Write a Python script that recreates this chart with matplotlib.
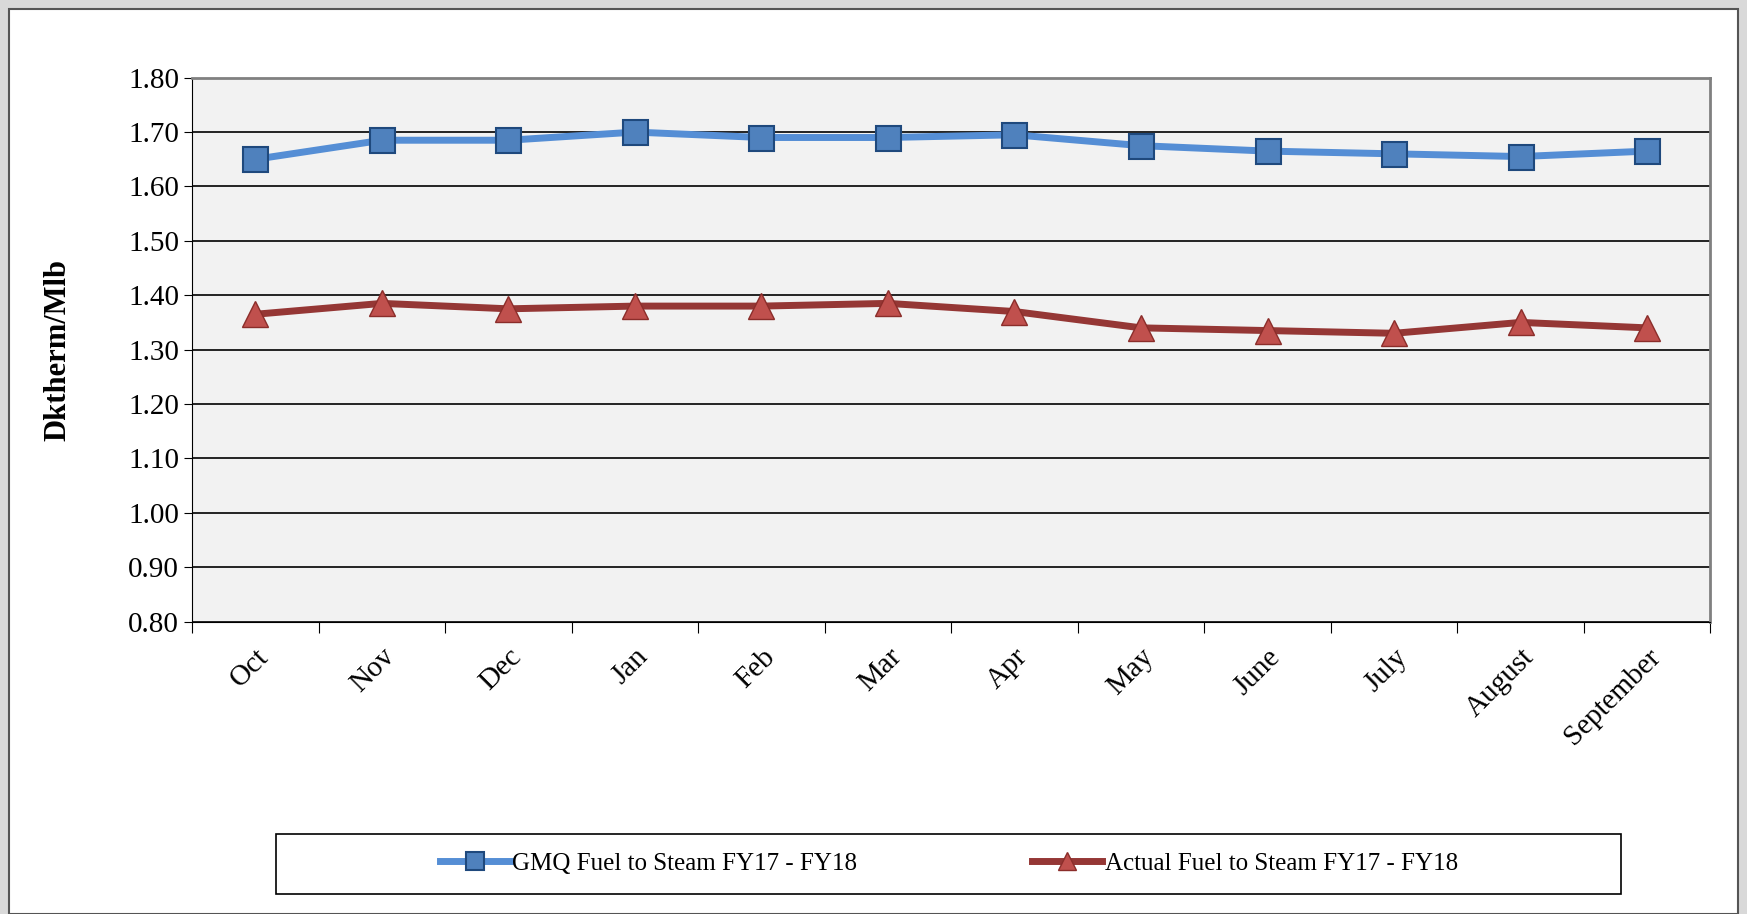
import matplotlib.pyplot as plt
from matplotlib.patches import Rectangle

months = ["Oct", "Nov", "Dec", "Jan", "Feb", "Mar", "Apr", "May", "June", "July", "August", "September"]
gmq = [1.65, 1.685, 1.685, 1.70, 1.69, 1.69, 1.695, 1.675, 1.665, 1.66, 1.655, 1.665]
actual = [1.365, 1.385, 1.375, 1.38, 1.38, 1.385, 1.37, 1.34, 1.335, 1.33, 1.35, 1.34]
yticks = [0.80, 0.90, 1.00, 1.10, 1.20, 1.30, 1.40, 1.50, 1.60, 1.70, 1.80]

plt.rcParams["font.family"] = ["Liberation Serif", "DejaVu Serif"]

fig = plt.figure(figsize=(17.47, 9.14), dpi=100, facecolor="#d9d9d9")
fig.patches.append(Rectangle((0.005, 0.0), 0.990, 0.99, transform=fig.transFigure,
                             facecolor="white", edgecolor="#555555", lw=1.5, zorder=-1))

ax = fig.add_axes([0.110, 0.320, 0.869, 0.595])
ax.set_facecolor("#f2f2f2")
x = list(range(len(months)))
ax.plot(x, gmq, color="#558ed5", lw=5, marker="s", ms=18, mfc="#4f81bd",
        mec="#1f497d", mew=1.5, label="GMQ Fuel to Steam FY17 - FY18", zorder=3)
ax.plot(x, actual, color="#953735", lw=5, marker="^", ms=19, mfc="#c0504d",
        mec="#8b2d2a", mew=1.0, label="Actual Fuel to Steam FY17 - FY18", zorder=3)

ax.set_xlim(-0.5, len(months) - 0.5)
ax.set_ylim(0.80, 1.80)
ax.set_yticks(yticks)
ax.set_yticklabels([f"{v:.2f}" for v in yticks], fontsize=21)
ax.yaxis.grid(True, color="black", lw=1.2)
ax.set_axisbelow(True)
ax.set_xticks([i - 0.5 for i in range(len(months) + 1)], minor=False)
ax.set_xticklabels([])
ax.set_xticks(x, minor=True)
ax.set_xticklabels(months, minor=True, rotation=45, ha="right", va="top",
                   rotation_mode="anchor", fontsize=21)
ax.tick_params(axis="x", which="minor", length=0, pad=16)
ax.tick_params(axis="x", which="major", length=8, color="black")
ax.tick_params(axis="y", length=6)
for s in ["top", "right"]:
    ax.spines[s].set_color("#808080")
    ax.spines[s].set_linewidth(2)
ax.spines["left"].set_color("black")
ax.spines["bottom"].set_color("black")
ax.set_ylabel("Dktherm/Mlb", fontsize=22, fontweight="bold", labelpad=40)

fig.patches.append(Rectangle((0.158, 0.022), 0.770, 0.066, transform=fig.transFigure,
                             facecolor="white", edgecolor="black", lw=1.2))
leg = fig.legend(loc="center", bbox_to_anchor=(0.543, 0.055), ncol=2, fontsize=18,
                 frameon=False, handlelength=2.8, handletextpad=0.1,
                 columnspacing=7, markerscale=0.7)

fig.savefig("out.png", dpi=100, facecolor=fig.get_facecolor())
